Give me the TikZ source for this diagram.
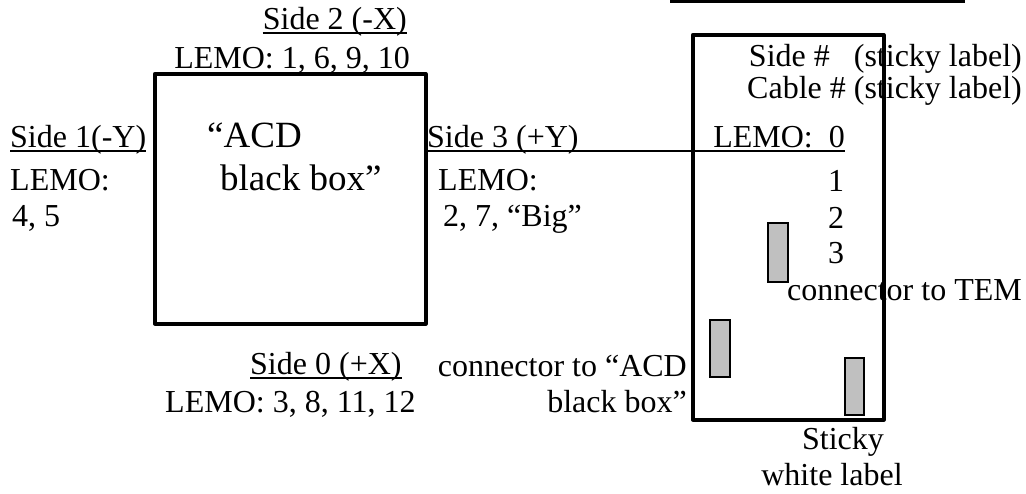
\documentclass[tikz,border=0pt]{standalone}
\usepackage{fontspec}
\setmainfont{Liberation Serif}
\definecolor{stickgray}{RGB}{192,192,192}
\begin{document}
\begin{tikzpicture}[x=1pt,y=-1pt,
  txt/.style={inner sep=0pt,font=\fontsize{32}{36}\selectfont},
  bigtxt/.style={inner sep=0pt,font=\fontsize{37}{41}\selectfont},
  box/.style={draw,line width=3.5pt,line join=round,inner sep=0pt},
  sticker/.style={draw,line width=1.5pt,fill=stickgray,inner sep=0pt},
  uline/.style={line width=1.5pt},
  longline/.style={line width=2pt}]
\useasboundingbox (0,0) rectangle (1026,493);

% boxes
\node[box,minimum width=271pt,minimum height=250pt,anchor=north west] (acd) at (153,72) {};
\node[box,minimum width=191pt,minimum height=385pt,anchor=north west] (conn) at (691,33) {};

% grey stickers
\node[sticker,minimum width=20pt,minimum height=59pt,anchor=north west] (g1) at (767,222) {};
\node[sticker,minimum width=20pt,minimum height=57pt,anchor=north west] (g2) at (709,319) {};
\node[sticker,minimum width=19pt,minimum height=57pt,anchor=north west] (g3) at (844,357) {};

% top line
\coordinate (tl) at (670,1.5);
\coordinate (tr) at (965,1.5);
\draw[line width=3pt] (tl) -- (tr);

% side 2
\node[txt,anchor=base east] (s2) at (407,29) {Side 2 (-X)};
\draw[uline] ([yshift=-4pt]s2.base west) -- ([yshift=-4pt]s2.base east);
\node[txt,anchor=base east] (l2) at (410,68) {LEMO: 1, 6, 9, 10};

% side 1
\node[txt,anchor=base west] (s1) at (10,147) {Side 1(-Y)};
\draw[uline] ([yshift=-4pt]s1.base west) -- ([yshift=-4pt]s1.base east);
\node[txt,anchor=base west] (l1) at (10,190) {LEMO:};
\node[txt,anchor=base west] (n1) at (12,226) {4, 5};

% box text
\node[bigtxt,anchor=base west] (acd1) at (207,147) {“ACD};
\node[bigtxt,anchor=base west] (acd2) at (220,190) {black box”};

% side 3
\node[txt,anchor=base west] (s3) at (427,147) {Side 3 (+Y)};
\node[txt,anchor=base west] (l3) at (438,190) {LEMO:};
\node[txt,anchor=base west] (n3) at (443,226) {2, 7, “Big”};

% right column
\node[txt,anchor=base east] (sd) at (1022,66) {Side \#\hspace{24pt}(sticky label)};
\node[txt,anchor=base east] (cb) at (1022,98) {Cable \# (sticky label)};
\node[txt,anchor=base east] (l0) at (845,147) {LEMO:\ \ 0};
\draw[longline] ([yshift=-4pt]s3.base west) -- ([yshift=-4pt]l0.base east);
\node[txt,anchor=base west] (r1) at (828,191) {1};
\node[txt,anchor=base west] (r2) at (828,228) {2};
\node[txt,anchor=base west] (r3) at (828,263) {3};
\node[txt,anchor=base east] (tem) at (1022,300) {connector to TEM};

% side 0
\node[txt,anchor=base west] (s0) at (250,374) {Side 0 (+X)};
\draw[uline] ([yshift=-4pt]s0.base west) -- ([yshift=-4pt]s0.base east);
\node[txt,anchor=base west] (l00) at (165,412) {LEMO: 3, 8, 11, 12};

% connector to ACD
\node[txt,anchor=base east] (ca1) at (687,376) {connector to “ACD};
\node[txt,anchor=base east] (ca2) at (687,412) {black box”};

% sticky white label
\node[txt,anchor=base] (sw1) at (843,449) {Sticky};
\node[txt,anchor=base] (sw2) at (832,485) {white label};
\end{tikzpicture}
\end{document}
